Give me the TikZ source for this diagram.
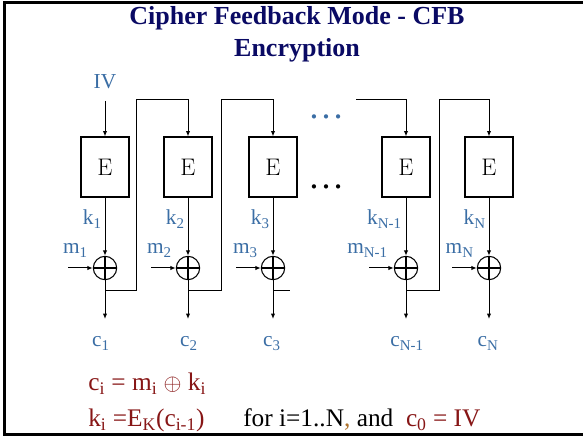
\documentclass[tikz,border=0pt]{standalone}
\usepackage{fontspec}
\newfontfamily\tnr{Liberation Serif}
\usetikzlibrary{arrows.meta}
\definecolor{lblue}{RGB}{59,110,165}
\definecolor{eqred}{RGB}{135,22,22}
\definecolor{navyc}{RGB}{10,10,100}
\definecolor{brownc}{RGB}{175,115,45}
\newcommand\sbs[1]{\textsubscript{#1}}
\tikzset{
  enc/.style={draw, line width=0.8pt, minimum width=36pt, minimum height=45pt, inner sep=0pt, font=\fontsize{18}{20}\selectfont},
  xorc/.style={circle, draw, line width=0.8pt, minimum size=17.5pt, inner sep=0pt,
    path picture={\draw[line width=0.8pt] (path picture bounding box.north) -- (path picture bounding box.south)
      (path picture bounding box.west) -- (path picture bounding box.east);}},
  lbl/.style={text=lblue, font=\tnr\fontsize{16}{18}\selectfont, inner sep=0pt},
  eqn/.style={font=\tnr\fontsize{19}{22}\selectfont, inner sep=0pt},
  ttl/.style={text=navyc, font=\tnr\bfseries\fontsize{19.5}{22}\selectfont, inner sep=0pt},
  arr/.style={-{Latex[length=4pt,width=3.2pt]}, line width=0.75pt},
  ln/.style={line width=0.75pt},
  dotsn/.style={font=\tnr\fontsize{27}{30}\selectfont, inner sep=0pt}
}
\begin{document}
\begin{tikzpicture}[x={(0.75pt,0)},y={(0,-0.75pt)}]
\useasboundingbox (0,0) rectangle (583,438);
\draw[line width=2.25pt] (583,3) -- (4,3) -- (4,435) -- (583,435);

% title
\node[ttl, anchor=base] (t1) at (297,25) {Cipher Feedback Mode - CFB};
\node[ttl, anchor=base] (t2) at (297,57) {Encryption};

% encryption boxes
\node[enc] (E1) at (105,167) {E};
\node[enc] (E2) at (188,167) {E};
\node[enc] (E3) at (273,167) {E};
\node[enc] (E4) at (406,167) {E};
\node[enc] (E5) at (489,167) {E};

% xor nodes
\node[xorc] (x1) at (105,268) {};
\node[xorc] (x2) at (188,268) {};
\node[xorc] (x3) at (273,268) {};
\node[xorc] (x4) at (406,268) {};
\node[xorc] (x5) at (489,268) {};

% dots
\node[dotsn, text=lblue] (dup) at (326,117) {…};
\node[dotsn] (ddown) at (326,187) {…};

% IV
\node[lbl, anchor=base] (iv) at (105,89) {IV};
\coordinate (ivs) at (105,101);
\draw[arr] (ivs) -- (E1.north);

% k labels
\node[lbl, anchor=base east] (k1) at (102,225) {k\sbs{1}};
\node[lbl, anchor=base east] (k2) at (185,225) {k\sbs{2}};
\node[lbl, anchor=base east] (k3) at (270,225) {k\sbs{3}};
\node[lbl, anchor=base east] (k4) at (402,225) {k\sbs{N-1}};
\node[lbl, anchor=base east] (k5) at (486,225) {k\sbs{N}};

% m labels
\node[lbl, anchor=base east] (m1) at (88,254) {m\sbs{1}};
\node[lbl, anchor=base east] (m2) at (172,254) {m\sbs{2}};
\node[lbl, anchor=base east] (m3) at (258,254) {m\sbs{3}};
\node[lbl, anchor=base east] (m4) at (388,254) {m\sbs{N-1}};
\node[lbl, anchor=base east] (m5) at (474,254) {m\sbs{N}};

% c labels
\node[lbl, anchor=base] (c1) at (101,347) {c\sbs{1}};
\node[lbl, anchor=base] (c2) at (189,347) {c\sbs{2}};
\node[lbl, anchor=base] (c3) at (272,347) {c\sbs{3}};
\node[lbl, anchor=base] (c4) at (407,347) {c\sbs{N-1}};
\node[lbl, anchor=base] (c5) at (488,347) {c\sbs{N}};

% coordinates
\foreach \i/\xx in {1/105,2/188,3/273,4/406,5/489}{
  \coordinate (ms\i) at (\xx-37,268);
  \coordinate (ce\i) at (\xx,319);
  \coordinate (j\i) at (\xx,291);
}
\coordinate (fb1) at (136.5,100);
\coordinate (fb2) at (221.7,100);
\coordinate (fb4) at (439.7,100);
\coordinate (stub) at (290,291);
\coordinate (top4) at (356,100);

\foreach \i in {1,...,5}{
  \draw[arr] (E\i.south) -- (x\i.north);
  \draw[arr] (ms\i) -- (x\i.west);
  \draw[arr] (x\i.south) -- (ce\i);
}

% feedback
\draw[arr] (j1) -| (fb1) -| (E2.north);
\draw[arr] (j2) -| (fb2) -| (E3.north);
\draw[ln] (j3) -- (stub);
\draw[arr] (top4) -| (E4.north);
\draw[arr] (j4) -| (fb4) -| (E5.north);

% equations
\node[eqn, anchor=base west, text=eqred] (eq1) at (88,391) {c\sbs{i} = m\sbs{i} $\oplus$ k\sbs{i}};
\node[eqn, anchor=base west, text=eqred] (eq2) at (88,427) {k\sbs{i} =E\sbs{K}(c\sbs{i-1})};
\node[eqn, anchor=base west] (eq3) at (243,427) {for i=1..N\textcolor{brownc}{,} and\ \ \textcolor{eqred}{c\sbs{0} = IV}};
\end{tikzpicture}
\end{document}
